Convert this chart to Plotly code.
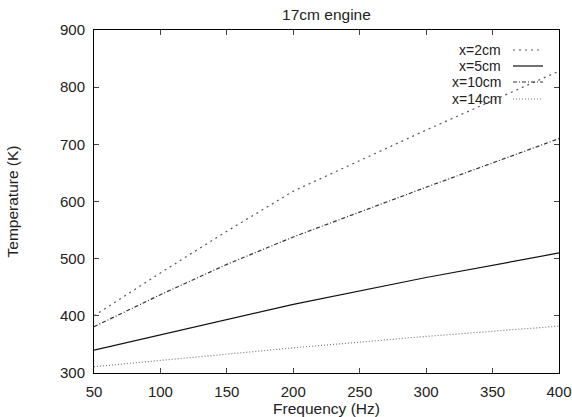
import plotly.graph_objects as go

freq = [50, 100, 150, 200, 300, 400]
t_2cm = [400, 475, 548, 618, 725, 828]
t_5cm = [340, 367, 394, 420, 467, 510]
t_10cm = [381, 437, 490, 538, 625, 710]
t_14cm = [311, 322, 333, 344, 364, 382]

series_names = ["x=2cm", "x=5cm", "x=10cm", "x=14cm"]
series_vals = [t_2cm, t_5cm, t_10cm, t_14cm]
styles = [
    dict(color="#555555", width=1.2, dash="2px,4px"),
    dict(color="#111111", width=1.2, dash="solid"),
    dict(color="#333333", width=1.2, dash="4px,2px,1px,2px"),
    dict(color="#777777", width=1.2, dash="1px,2px"),
]

x_ticks = [50, 100, 150, 200, 250, 300, 350, 400]
y_ticks = [300, 400, 500, 600, 700, 800, 900]

fig = go.Figure()
for name, vals, st in zip(series_names, series_vals, styles):
    fig.add_trace(go.Scatter(x=freq, y=vals, mode="lines", name=name,
                             line=st, showlegend=False))

W, H = 572, 417
ml, mr, mt, mb = 94, 13, 30, 44
pw, ph = W - ml - mr, H - mt - mb

def px_x(p):
    return (p - ml) / pw

def px_y(p):
    return 1 - (p - mt) / ph

# custom legend (text left, sample right, as in original)
leg_rows = [50, 66, 82, 99]
for name, st, yy in zip(series_names, styles, leg_rows):
    fig.add_annotation(x=px_x(503), y=px_y(yy), xref="paper", yref="paper",
                       text=name, showarrow=False, xanchor="right", yanchor="middle",
                       font=dict(size=14, color="#222222"))
    fig.add_shape(type="line", xref="paper", yref="paper",
                  x0=px_x(513), x1=px_x(543), y0=px_y(yy), y1=px_y(yy),
                  line=st)

font_family = "Liberation Sans, Arial, Helvetica, sans-serif"
fig.update_layout(
    width=W, height=H,
    margin=dict(l=ml, r=mr, t=mt, b=mb),
    paper_bgcolor="white", plot_bgcolor="white",
    font=dict(family=font_family, size=15, color="#222222"),
    title=dict(text="17cm engine", x=(ml + pw / 2) / W, xanchor="center",
               y=1 - 14.5 / H, yanchor="middle", font=dict(size=15.5)),
)
fig.update_xaxes(range=[50, 400], tickvals=x_ticks, ticks="inside", ticklen=5,
                 showline=True, linecolor="black", linewidth=1, mirror="ticks",
                 showgrid=False, zeroline=False, ticklabelstandoff=5, automargin=False,
                 title=dict(text="Frequency (Hz)", standoff=0, font=dict(size=15.5)),
                 tickfont=dict(size=15))
fig.update_yaxes(range=[300, 900], tickvals=y_ticks, ticks="inside", ticklen=5,
                 showline=True, linecolor="black", linewidth=1, mirror="ticks",
                 showgrid=False, zeroline=False, ticklabelstandoff=5, automargin=False,
                 title=dict(text="Temperature (K)", standoff=37, font=dict(size=15.5)),
                 tickfont=dict(size=15))

fig.write_html("out.html")
